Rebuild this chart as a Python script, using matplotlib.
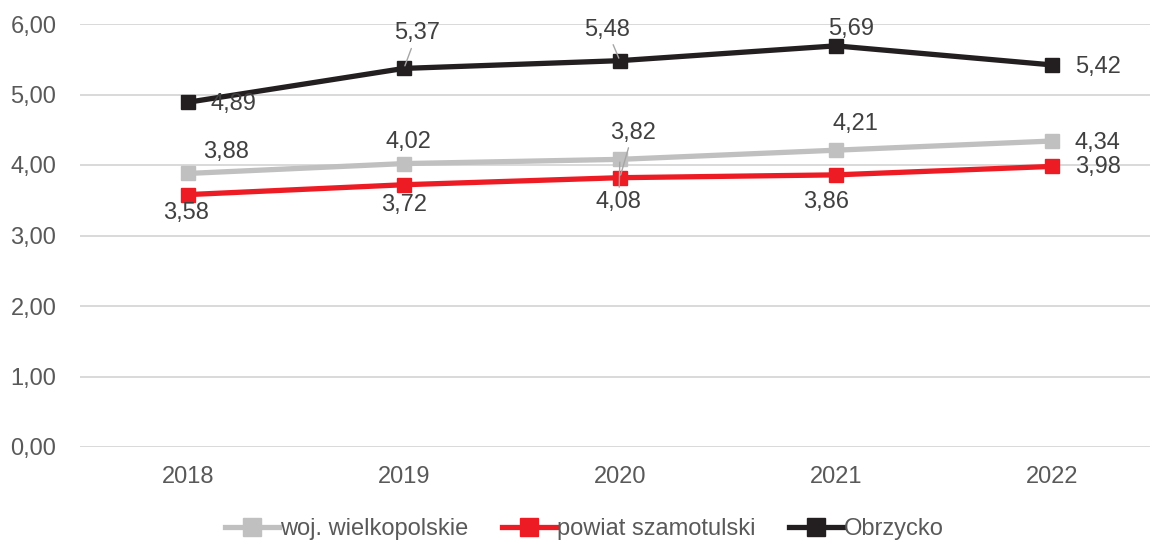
import matplotlib
matplotlib.use("Agg")
import matplotlib.pyplot as plt

plt.rcParams['font.family'] = ['Liberation Sans', 'DejaVu Sans']

years = ["2018", "2019", "2020", "2021", "2022"]
woj = [3.88, 4.02, 4.08, 4.21, 4.34]
powiat = [3.58, 3.72, 3.82, 3.86, 3.98]
obrzycko = [4.89, 5.37, 5.48, 5.69, 5.42]
names = ["woj. wielkopolskie", "powiat szamotulski", "Obrzycko"]
colors = ["#c0c0c0", "#ed1c24", "#231f20"]

# label offsets in pixels (dx, dy up)
off_woj = [(38, 21), (5, 22), (-1, -43), (20, 26), (46, -2)]
off_pow = [(-2, -18), (0, -20), (13, 45), (-10, -27), (46, -1)]
off_obr = [(45, -2), (13, 35), (-13, 31), (15, 17), (46, -2)]
leader = {(0, 2), (1, 2), (2, 1), (2, 2)}

fs = 17

fig = plt.figure(figsize=(11.53, 5.42), dpi=100)
ax = fig.add_axes([80 / 1153, 1 - 447 / 542, 1070 / 1153, 423 / 542])

x = range(len(years))
series = [woj, powiat, obrzycko]
offsets = [off_woj, off_pow, off_obr]
for si, (vals, name, col) in enumerate(zip(series, names, colors)):
    ax.plot(x, vals, color=col, lw=3.8, marker="s", ms=10, label=name, zorder=3 + si)
    for i, v in enumerate(vals):
        dx, dy = offsets[si][i]
        props = None
        if (si, i) in leader:
            props = dict(arrowstyle="-", color="#a6a6a6", lw=1, shrinkA=1, shrinkB=2)
        ax.annotate(f"{v:.2f}".replace(".", ","), (i, v),
                    xytext=(dx * 0.72, dy * 0.72), textcoords="offset points",
                    ha="center", va="center", fontsize=fs, color="#404040",
                    arrowprops=props, zorder=10)

ax.set_ylim(0, 6)
ax.set_xlim(-0.5, 4.455)
ax.set_yticks([0, 1, 2, 3, 4, 5, 6])
ax.set_yticklabels([f"{t:.2f}".replace(".", ",") for t in range(7)])
ax.set_xticks(list(x))
ax.set_xticklabels(years)
ax.tick_params(length=0, labelsize=fs, labelcolor="#595959")
ax.tick_params(axis="y", pad=17)
ax.tick_params(axis="x", pad=14)
ax.grid(axis="y", color="#d9d9d9", lw=1.4)
ax.set_axisbelow(True)
for s in ax.spines.values():
    s.set_visible(False)

fig.legend(loc="center", bbox_to_anchor=(0.507, 0.024), ncol=3, frameon=False,
           fontsize=fs, handlelength=2.3, handletextpad=0.05, columnspacing=1.4,
           labelcolor="#595959", markerscale=1.3)

fig.savefig("out.png", dpi=100)
